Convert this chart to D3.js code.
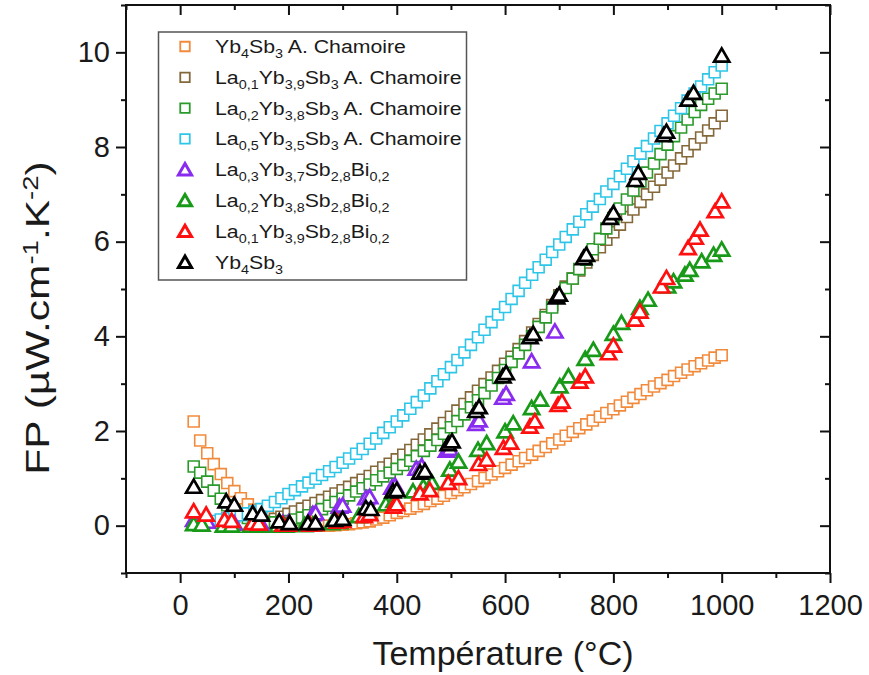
<!DOCTYPE html>
<html><head><meta charset="utf-8">
<script src="https://cdn.jsdelivr.net/npm/d3@7"></script>
<style>
body{margin:0;background:#fff}
text{font-family:"Liberation Sans",Arial,sans-serif;fill:#1a1a1a}
</style>
</head><body>
<svg id="c" width="869" height="675"></svg>
<script>
// ---------- data ----------
const xMajorTicks = [0, 200, 400, 600, 800, 1000, 1200];
const xMinorTicks = [-100, 100, 300, 500, 700, 900, 1100];
const yMajorTicks = [0, 2, 4, 6, 8, 10];
const yMinorTicks = [-1, 1, 3, 5, 7, 9, 11];

// temperature grid of the square (A. Chamoire) series
const sqT = [25,37,50,62,75,87,100,112,125,137,150,162,175,187,200,212,225,237,250,262,275,287,300,312,325,337,350,362,375,387,400,412,425,437,450,462,475,487,500,512,525,537,550,562,575,587,600,612,625,637,650,662,675,687,700,712,725,737,750,762,775,787,800,812,825,837,850,862,875,887,900,912,925,937,950,962,975,987,1000];

const fpYb4Sb3Cham = [2.2,1.8,1.53,1.3,1.09,0.9,0.73,0.58,0.45,0.34,0.25,0.18,0.12,0.08,0.05,0.03,0.02,0.01,0.0,0.0,0.0,0.01,0.02,0.03,0.05,0.07,0.09,0.13,0.17,0.22,0.27,0.31,0.36,0.41,0.46,0.52,0.57,0.63,0.69,0.75,0.81,0.88,0.94,1.01,1.08,1.15,1.22,1.29,1.36,1.43,1.5,1.58,1.66,1.74,1.82,1.9,1.98,2.06,2.14,2.22,2.3,2.38,2.46,2.54,2.62,2.7,2.78,2.86,2.94,3.01,3.08,3.16,3.23,3.3,3.37,3.43,3.49,3.55,3.6];

const fpLa01Cham = [null,null,null,null,null,null,null,null,null,null,0.05,0.09,0.14,0.19,0.25,0.3,0.36,0.42,0.48,0.54,0.61,0.68,0.75,0.82,0.9,0.97,1.05,1.14,1.23,1.31,1.4,1.5,1.6,1.71,1.82,1.93,2.05,2.17,2.3,2.43,2.57,2.71,2.85,2.99,3.13,3.27,3.42,3.57,3.73,3.9,4.08,4.26,4.45,4.66,4.87,5.05,5.22,5.39,5.56,5.72,5.88,6.04,6.2,6.36,6.52,6.68,6.84,7.0,7.16,7.31,7.46,7.61,7.76,7.91,8.06,8.2,8.35,8.5,8.66];

const fpLa02Cham = [1.25,1.12,0.93,0.74,0.57,0.43,0.32,0.23,0.16,0.11,0.08,0.07,0.07,0.08,0.1,0.13,0.17,0.22,0.28,0.35,0.42,0.5,0.57,0.64,0.72,0.79,0.87,0.96,1.04,1.12,1.2,1.28,1.37,1.47,1.58,1.69,1.81,1.94,2.08,2.21,2.35,2.5,2.65,2.8,2.96,3.12,3.29,3.46,3.64,3.82,4.0,4.2,4.4,4.61,4.82,5.02,5.22,5.42,5.62,5.84,6.06,6.28,6.5,6.7,6.89,7.08,7.27,7.46,7.65,7.85,8.05,8.23,8.41,8.58,8.74,8.89,9.02,9.13,9.23];

const fpLa05Cham = [null,null,null,0.1,0.13,0.16,0.19,0.22,0.26,0.3,0.35,0.42,0.5,0.58,0.67,0.75,0.83,0.91,0.99,1.07,1.15,1.24,1.33,1.42,1.52,1.62,1.73,1.84,1.96,2.08,2.2,2.33,2.47,2.61,2.75,2.9,3.05,3.2,3.35,3.5,3.66,3.82,3.98,4.14,4.3,4.46,4.62,4.79,4.96,5.13,5.3,5.46,5.62,5.78,5.94,6.1,6.26,6.42,6.58,6.74,6.9,7.06,7.22,7.38,7.54,7.7,7.86,8.02,8.18,8.34,8.5,8.66,8.82,8.98,9.13,9.28,9.43,9.58,9.72];

// triangle series (this work)
const tLa03Bi = [25,50,85,100,134,150,190,200,245,250,294,300,343,350,391,397,436,446,492,498,546,552,596,602,649,692];
const fpLa03Bi = [0.12,0.08,0.05,0.04,0.02,0.02,0.05,0.06,0.24,0.26,0.4,0.42,0.58,0.6,0.8,0.84,1.2,1.25,1.58,1.62,2.15,2.22,2.7,2.78,3.47,4.1];

const tLa02Bi = [25,40,80,95,130,145,180,195,230,245,280,295,330,345,380,395,430,449,465,498,514,550,566,600,615,649,665,701,717,748,763,800,815,849,864,900,911,932,941,963,985,1000];
const fpLa02Bi = [0.03,0.02,0.0,0.0,0.0,0.0,0.0,0.0,0.01,0.02,0.05,0.07,0.2,0.25,0.45,0.52,0.72,0.82,0.9,1.18,1.35,1.6,1.74,1.99,2.16,2.48,2.66,2.94,3.15,3.52,3.71,4.05,4.28,4.6,4.77,5.05,5.16,5.3,5.4,5.58,5.72,5.83];

const tLa01Bi = [25,48,82,95,134,145,190,200,240,250,290,300,340,350,394,400,443,461,495,514,551,566,597,610,646,655,698,705,738,748,791,800,840,849,889,898,938,951,960,988,1000];
const fpLa01Bi = [0.3,0.23,0.12,0.1,0.05,0.04,0.02,0.02,0.02,0.03,0.08,0.1,0.2,0.24,0.4,0.45,0.68,0.75,0.9,1.0,1.3,1.39,1.64,1.75,2.09,2.2,2.55,2.62,3.04,3.15,3.64,3.8,4.35,4.52,5.05,5.23,5.86,6.08,6.25,6.64,6.85];

const tYb4Sb3 = [25,85,100,134,150,183,202,236,250,285,300,343,352,393,400,443,452,495,502,546,552,596,602,646,652,695,700,745,750,794,800,840,846,893,898,938,948,1000];
const fpYb4Sb3 = [0.82,0.51,0.44,0.26,0.23,0.09,0.05,0.05,0.05,0.12,0.14,0.37,0.35,0.72,0.75,1.12,1.15,1.72,1.78,2.42,2.5,3.15,3.22,3.98,4.05,4.82,4.88,5.65,5.72,6.5,6.6,7.3,7.45,8.25,8.32,9.0,9.14,9.93];

const seriesNames = [
  "Yb_{4}Sb_{3} A. Chamoire",
  "La_{0,1}Yb_{3,9}Sb_{3} A. Chamoire",
  "La_{0,2}Yb_{3,8}Sb_{3} A. Chamoire",
  "La_{0,5}Yb_{3,5}Sb_{3} A. Chamoire",
  "La_{0,3}Yb_{3,7}Sb_{2,8}Bi_{0,2}",
  "La_{0,2}Yb_{3,8}Sb_{2,8}Bi_{0,2}",
  "La_{0,1}Yb_{3,9}Sb_{2,8}Bi_{0,2}",
  "Yb_{4}Sb_{3}"
];
const seriesColors = ["#f28a3c","#85683a","#2a9a2a","#2ec6e8","#8a2cf0","#189a18","#ff1010","#000000"];
const seriesShapes = ["square","square","square","square","triangle","triangle","triangle","triangle"];

const xTitle = "Température (°C)";
const yTitle = "FP (µW.cm^{-1}.K^{-2})";

// ---------- build ----------
const series = [
  {t: sqT, v: fpYb4Sb3Cham},
  {t: sqT, v: fpLa01Cham},
  {t: sqT, v: fpLa02Cham},
  {t: sqT, v: fpLa05Cham},
  {t: tLa03Bi, v: fpLa03Bi},
  {t: tLa02Bi, v: fpLa02Bi},
  {t: tLa01Bi, v: fpLa01Bi},
  {t: tYb4Sb3, v: fpYb4Sb3}
].map((s, i) => ({
  name: seriesNames[i], color: seriesColors[i], shape: seriesShapes[i],
  pts: s.t.map((t, j) => ({t, v: s.v[j]})).filter(p => p.v !== null)
}));

const svg = d3.select("#c");
svg.append("rect").attr("width", 869).attr("height", 675).attr("fill", "#fff");

const x = d3.scaleLinear().domain([-100, 1200]).range([126, 830]);
const y = d3.scaleLinear().domain([-1, 11]).range([573, 5]);

const symSquare = d3.symbol().type(d3.symbolSquare).size(120);
const symTri = d3.symbol().type(d3.symbolTriangle).size(100);
const symSquareLeg = d3.symbol().type(d3.symbolSquare).size(90);
const symTriLeg = d3.symbol().type(d3.symbolTriangle).size(75);

// markers
const plot = svg.append("g");
series.forEach(s => {
  plot.append("g").selectAll("path").data(s.pts).join("path")
    .attr("d", s.shape === "square" ? symSquare() : symTri())
    .attr("transform", d => `translate(${x(d.t)},${y(d.v) + (s.shape === "triangle" ? 1.5 : 0)})`)
    .attr("fill", "#fff")
    .attr("stroke", s.color)
    .attr("stroke-width", s.shape === "square" ? 1.6 : 2.7);
});

// axes
function styleAxis(g) {
  g.select(".domain").remove();
  g.selectAll(".tick line").attr("stroke", "#111").attr("stroke-width", 2);
  g.selectAll(".tick text").attr("fill", "#1a1a1a").style("font-size", "29px")
    .style("font-family", '"Liberation Sans",Arial,sans-serif');
}
svg.append("g").attr("transform", "translate(0,573)")
  .call(d3.axisBottom(x).tickValues(xMajorTicks).tickSize(10).tickPadding(11).tickFormat(d3.format("d")))
  .call(styleAxis);
svg.append("g").attr("transform", "translate(0,573)")
  .call(d3.axisBottom(x).tickValues(xMinorTicks).tickSize(5).tickFormat(""))
  .call(styleAxis);
svg.append("g").attr("transform", "translate(0,5)")
  .call(d3.axisTop(x).tickValues(xMajorTicks).tickSize(-10).tickFormat(""))
  .call(styleAxis);
svg.append("g").attr("transform", "translate(0,5)")
  .call(d3.axisTop(x).tickValues(xMinorTicks).tickSize(-5).tickFormat(""))
  .call(styleAxis);
svg.append("g").attr("transform", "translate(126,0)")
  .call(d3.axisLeft(y).tickValues(yMajorTicks).tickSize(10).tickPadding(6).tickFormat(d3.format("d")))
  .call(styleAxis);
svg.append("g").attr("transform", "translate(126,0)")
  .call(d3.axisLeft(y).tickValues(yMinorTicks).tickSize(5).tickFormat(""))
  .call(styleAxis);
svg.append("g").attr("transform", "translate(830,0)")
  .call(d3.axisRight(y).tickValues(yMajorTicks).tickSize(-10).tickFormat(""))
  .call(styleAxis);
svg.append("g").attr("transform", "translate(830,0)")
  .call(d3.axisRight(y).tickValues(yMinorTicks).tickSize(-5).tickFormat(""))
  .call(styleAxis);

svg.append("rect").attr("x", x(-100)).attr("y", y(11))
  .attr("width", x(1200) - x(-100)).attr("height", y(-1) - y(11))
  .attr("fill", "none").attr("stroke", "#111").attr("stroke-width", 2);

// rich text helper: "_{..}" subscript, "^{..}" superscript
function rich(textSel, str, base, small, shift) {
  const re = /([_^])\{([^}]*)\}|([^_^]+)/g;
  let m, cur = 0;
  while ((m = re.exec(str)) !== null) {
    if (m[3] !== undefined) {
      textSel.append("tspan").text(m[3]).style("font-size", base + "px").attr("dy", -cur);
      cur = 0;
    } else {
      const d = m[1] === "_" ? shift : -shift * 1.5;
      textSel.append("tspan").text(m[2]).style("font-size", small + "px").attr("dy", d - cur);
      cur = d;
    }
  }
}

// axis titles
svg.append("text").attr("x", 503).attr("y", 665).attr("text-anchor", "middle")
  .style("font-size", "34px").text(xTitle);
const yt = svg.append("text").attr("transform", "translate(49,318) rotate(-90) scale(1.25,1)")
  .attr("text-anchor", "middle");
rich(yt, yTitle, 34, 22, 7.5);

// legend
const leg = svg.append("g");
leg.append("rect").attr("x", 158.5).attr("y", 32).attr("width", 308).attr("height", 248)
  .attr("fill", "#fff").attr("stroke", "#555").attr("stroke-width", 1.5);
series.forEach((s, i) => {
  const cy = 46.5 + i * 30.8;
  leg.append("path")
    .attr("d", s.shape === "square" ? symSquareLeg() : symTriLeg())
    .attr("transform", `translate(185,${cy + (s.shape === "triangle" ? 1.5 : 0)})`)
    .attr("fill", "#fff").attr("stroke", s.color)
    .attr("stroke-width", s.shape === "square" ? 1.8 : 3);
  const t = leg.append("text").attr("transform", `translate(215,${cy + 6.5}) scale(1.15,1)`);
  rich(t, s.name, 18.5, 12.5, 5);
});
</script>
</body></html>
